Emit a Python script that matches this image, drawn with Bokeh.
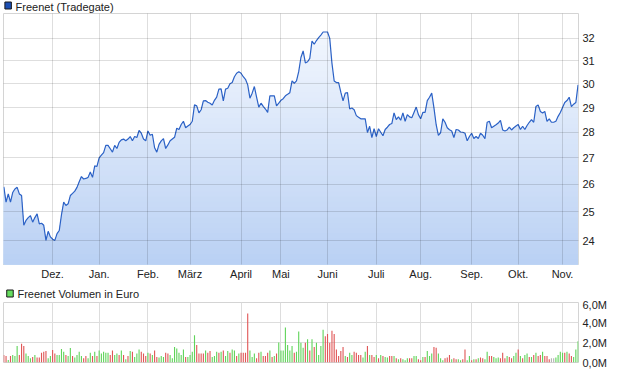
import numpy as np
from bokeh.plotting import figure
from bokeh.layouts import column
from bokeh.models import FixedTicker, CustomJSTickFormatter, Range1d
from bokeh.core.properties import value
from bokeh.embed import file_html
from bokeh.resources import INLINE

# ---------------- data ----------------
series_name = "Freenet (Tradegate)"
volume_name = "Freenet Volumen in Euro"
month_ticks = [22, 43, 65, 84, 107, 125, 146, 168, 188, 211, 232, 252]
month_labels = ["Dez.", "Jan.", "Feb.", "März", "April", "Mai", "Juni",
                "Juli", "Aug.", "Sep.", "Okt.", "Nov."]
price_ticks = [24, 25, 26, 27, 28, 29, 30, 31, 32]
volume_ticks = [0, 2e6, 4e6, 6e6]

price = [
    25.91, 25.35, 25.65, 25.35, 25.7, 25.83, 25.89, 25.65, 25.59, 24.53,
    24.70, 24.8, 24.87, 24.64, 24.8, 24.93, 24.58, 24.6, 24.53, 24.01,
    24.32, 24.13, 24.05, 24.01, 24.24, 24.35, 24.9, 25.35, 25.23, 25.29,
    25.59, 25.67, 25.75, 25.89, 26.1, 26.29, 26.2, 26.22, 26.26, 26.46,
    26.26, 26.69, 26.67, 27.0, 27.1, 27.2, 27.48, 27.48, 27.35, 27.22,
    27.48, 27.36, 27.6, 27.7, 27.73, 27.66, 27.73, 27.83, 27.66, 27.83,
    27.79, 28.07, 27.96, 27.73, 27.66, 28.05, 27.88, 27.92, 27.39, 27.22,
    27.52, 27.66, 27.75, 27.36, 27.5, 27.66, 27.73, 27.8, 28.16, 28.11,
    28.31, 28.44, 28.18, 28.25, 28.31, 28.44, 29.11, 29.07, 28.78, 28.91,
    29.28, 29.29, 29.22, 29.18, 29.11, 29.3, 29.43, 29.77, 29.78, 29.28,
    29.77, 29.81, 30.0, 30.05, 30.30, 30.45, 30.52, 30.45, 30.3, 30.19,
    29.95, 29.39, 29.6, 29.88, 29.43, 29.02, 29.18, 29.05, 28.94, 28.80,
    29.49, 29.49, 29.49, 29.07, 29.18, 29.3, 29.37, 29.49, 29.55, 29.62,
    30.12, 30.02, 30.12, 30.52, 31.14, 31.43, 30.9, 30.95, 31.1, 31.88,
    31.73, 31.9, 32.03, 32.15, 32.29, 32.29, 32.29, 32.0, 30.88, 30.12,
    30.05, 30.05, 29.64, 29.28, 29.6, 29.62, 28.94, 28.98, 28.91, 28.67,
    28.6, 28.54, 28.54, 28.54, 27.99, 28.24, 27.79, 28.14, 27.83, 28.14,
    28.0, 27.86, 28.11, 28.2, 28.31, 28.35, 28.78, 28.51, 28.62, 28.48,
    28.78, 28.44, 28.71, 28.62, 28.58, 28.8, 29.02, 28.71, 28.54, 28.80,
    28.80, 29.29, 29.43, 29.6, 28.99, 28.3, 27.88, 27.98, 28.54, 28.40,
    28.18, 28.1, 28.05, 27.79, 28.11, 28.09, 28.01, 28.0, 27.96, 27.66,
    27.83, 27.96, 27.75, 27.83, 27.75, 27.96, 27.88, 27.75, 28.40, 28.44,
    28.18, 28.24, 28.3, 28.37, 28.48, 28.09, 28.05, 28.09, 28.20, 28.09,
    28.18, 28.25, 28.31, 28.11, 28.24, 28.11, 28.27, 28.4, 28.51, 28.40,
    29.04, 29.11, 28.84, 28.78, 28.84, 28.44, 28.54, 28.40, 28.40, 28.44,
    28.64, 28.80, 29.0, 29.21, 29.29, 29.43, 29.04, 29.14, 29.21, 29.95,
]

# volume in million euro
volume_mio = [
    0.75, 0.65, 0.26, 0.65, 0.75, 0.65, 1.64, 0.75, 1.87, 1.64,
    0.89, 0.65, 0.43, 0.56, 0.75, 0.49, 0.49, 0.98, 1.08, 1.15,
    0.43, 0.65, 1.25, 0.89, 0.75, 0.75, 1.34, 1.08, 0.75, 0.65,
    1.44, 0.65, 0.49, 0.75, 1.08, 0.65, 0.43, 0.65, 0.43, 0.98,
    0.65, 1.08, 0.65, 1.21, 0.89, 1.08, 0.98, 0.98, 0.75, 1.21,
    0.75, 0.89, 0.75, 1.21, 0.75, 0.33, 0.65, 1.15, 1.08, 0.56,
    0.89, 1.31, 1.08, 0.89, 0.65, 0.98, 0.89, 0.75, 1.21, 0.56,
    0.49, 0.65, 0.56, 0.98, 0.89, 0.75, 0.43, 1.54, 1.41, 0.98,
    0.75, 1.31, 0.56, 0.56, 0.75, 1.08, 2.72, 1.74, 0.89, 0.89,
    0.89, 1.21, 0.98, 1.15, 0.56, 0.65, 1.08, 0.98, 1.08, 1.21,
    0.65, 1.15, 0.98, 1.31, 1.21, 0.65, 0.89, 0.98, 0.98, 0.98,
    4.89, 1.21, 0.56, 0.89, 0.43, 0.98, 1.08, 0.65, 0.65, 0.98,
    1.21, 0.56, 0.65, 0.89, 2.0, 1.21, 1.21, 3.51, 1.74, 1.21,
    1.64, 0.98, 1.08, 3.11, 1.97, 1.48, 1.97, 2.33, 1.21, 2.33,
    1.54, 1.97, 0.75,
    1.64, 3.28, 2.62, 2.85, 1.97, 3.18, 2.85, 1.31, 0.65, 1.15,
    1.54, 0.65, 0.56, 0.98, 0.75, 1.08, 0.98, 0.75, 0.75, 0.49,
    1.08, 1.64, 0.75, 0.75, 0.56, 0.75, 0.43, 0.75, 0.65, 0.56,
    0.49, 0.65, 0.65, 0.65, 0.43, 0.33, 0.43, 0.33, 0.23, 0.43,
    0.43, 0.43, 0.65, 0.65, 0.33, 0.23, 0.56, 0.56, 1.15, 0.65,
    0.89, 1.54, 1.48, 0.89, 0.43, 0.23, 0.43, 0.49, 0.75, 0.33,
    0.43, 0.33, 0.33, 0.23, 0.33, 1.31, 0.23, 0.65, 0.23, 0.33,
    0.33, 0.43, 0.49, 0.43, 0.33, 1.08, 0.65, 0.65, 0.56, 0.43,
    0.49, 0.43, 0.98, 0.43, 0.65, 0.56, 0.43, 0.65, 0.98, 1.31,
    0.65, 0.43, 0.75, 0.89, 0.56, 0.56, 0.75, 0.98, 0.65, 0.75,
    1.08, 0.65, 0.65, 0.33, 0.43, 0.43, 0.49, 0.75, 1.08, 0.98,
    0.98, 1.08, 0.89, 0.65, 0.56, 1.31, 2.13,
]

# day direction: g = up, r = down, n = unchanged
direction = "".join([
    "rrgrgggrrr", "gggrgrrrrr", "ggrrggggrg", "grggggrrgg", "rgrgggggrr",
    "ggrgrgrgrg", "ggrrrgrgrr", "gggrrggggg", "ggrggggrrr", "rgrrgggrgr",
    "ggrggrgrrr", "rgggrrgrrr", "grgrgggggg", "grggggrgrg", "rgg",
    "ggrrrrrrrr", "rgrggrrrrg", "grgrrgrgrg", "grrgrgrggg", "rrggrrgrgg",
    "grrgggrrrg", "rrggrrggrg", "rgrrggrrgg", "grrrgrrggr", "grggrgrgrr",
    "grrrnngggg", "rgrrggg",
])

# ---------------- derived ----------------
n = len(price)
x = np.arange(n)
price_arr = np.array(price)
colour_map = {"g": "#60d45a", "r": "#e05656", "n": "#b4b4b4"}
bar_colours = [colour_map[c] for c in direction]
volume = np.array(volume_mio) * 1e6

FONT = "Liberation Sans"
TXT = "#222222"
y_lo, y_hi = 23.2, 33.15
x_lo, x_hi = -0.15, 259.2


def header(height, text, sq_left, sq_bottom, text_x, text_y, fill):
    """Small strip holding a legend square and its caption."""
    h = figure(width=620, height=height, output_backend="svg",
               toolbar_location=None, x_range=Range1d(0, 620),
               y_range=Range1d(0, height), min_border=0)
    h.axis.visible = False
    h.grid.visible = False
    h.outline_line_color = None
    h.background_fill_color = "white"
    h.border_fill_color = "white"
    h.quad(left=[sq_left], right=[sq_left + 7], bottom=[sq_bottom],
           top=[sq_bottom + 7], fill_color=fill, line_color="#1a1a1a",
           line_width=1)
    h.text(x=[text_x], y=[text_y], text=[text], text_font=value(FONT),
           text_font_size="11px", text_color=TXT, text_baseline="middle",
           text_align="left")
    return h


def style_axis(ax, standoff):
    ax.axis_line_color = None
    ax.major_tick_line_color = None
    ax.minor_tick_line_color = None
    ax.major_tick_out = 0
    ax.major_tick_in = 0
    ax.minor_tick_out = 0
    ax.minor_tick_in = 0
    ax.major_label_text_font = FONT
    ax.major_label_text_font_size = "11px"
    ax.major_label_text_color = TXT
    ax.major_label_standoff = standoff


h1 = header(13, series_name, 1.5, 4.5, 13, 7, "#1c4fb3")

# ---------------- price chart ----------------
p = figure(width=620, height=269, output_backend="svg", toolbar_location=None,
           y_axis_type="log", y_axis_location="right",
           x_range=Range1d(x_lo, x_hi), y_range=Range1d(y_lo, y_hi),
           min_border_left=3, min_border_right=42, min_border_top=0,
           min_border_bottom=16)
p.background_fill_color = "white"
p.border_fill_color = "white"
p.outline_line_color = "#d4d4d4"

# vertical gradient fill under the curve (stacked bands, lightest on top)
n_bands = 48
levels = np.exp(np.linspace(np.log(y_lo), np.log(y_hi), n_bands + 1))[1:]
top_rgb = np.array([247, 250, 255])
bot_rgb = np.array([186, 209, 244])
for k in range(n_bands - 1, -1, -1):
    t = (k + 0.5) / n_bands
    rgb = (bot_rgb + (top_rgb - bot_rgb) * t).astype(int)
    col = "#%02x%02x%02x" % tuple(rgb)
    p.varea(x=x, y1=np.full(n, y_lo), y2=np.minimum(price_arr, levels[k]),
            fill_color=col, fill_alpha=1.0)

p.line(x, price_arr, line_color="#2c62c6", line_width=1.2)

p.xaxis.ticker = FixedTicker(ticks=month_ticks)
p.xaxis.major_label_overrides = {t: l for t, l in zip(month_ticks, month_labels)}
p.yaxis.ticker = FixedTicker(ticks=price_ticks)
p.yaxis.formatter = CustomJSTickFormatter(code="return Math.round(tick).toString();")
style_axis(p.xaxis[0], 3)
style_axis(p.yaxis[0], 4)
p.xgrid.ticker = FixedTicker(ticks=month_ticks)
p.ygrid.ticker = FixedTicker(ticks=price_ticks)
for g in (p.xgrid, p.ygrid):
    g.level = "overlay"
    g.grid_line_color = "#000000"
    g.grid_line_alpha = 0.13
    g.grid_line_width = 1

h2 = header(16, volume_name, 3.5, 1.5, 15, 5, "#66dd5e")

# ---------------- volume chart ----------------
v = figure(width=620, height=73, output_backend="svg", toolbar_location=None,
           y_axis_location="right",
           x_range=Range1d(x_lo, x_hi), y_range=Range1d(0, 6e6),
           min_border_left=3, min_border_right=42, min_border_top=4,
           min_border_bottom=9)
v.background_fill_color = "white"
v.border_fill_color = "white"
v.outline_line_color = "#d4d4d4"
v.vbar(x=x, top=volume, width=0.5, fill_color=bar_colours, line_color=None)

v.xaxis.visible = False
v.yaxis.ticker = FixedTicker(ticks=volume_ticks)
v.yaxis.formatter = CustomJSTickFormatter(
    code="return (tick/1e6).toFixed(1).replace('.', ',') + 'M';")
style_axis(v.yaxis[0], 4)
v.xgrid.ticker = FixedTicker(ticks=month_ticks)
v.ygrid.ticker = FixedTicker(ticks=volume_ticks)
for g in (v.xgrid, v.ygrid):
    g.grid_line_color = "#dddddd"
    g.grid_line_width = 1

layout = column(h1, p, h2, v, spacing=0)
open("out.html", "w").write(file_html(layout, INLINE))
